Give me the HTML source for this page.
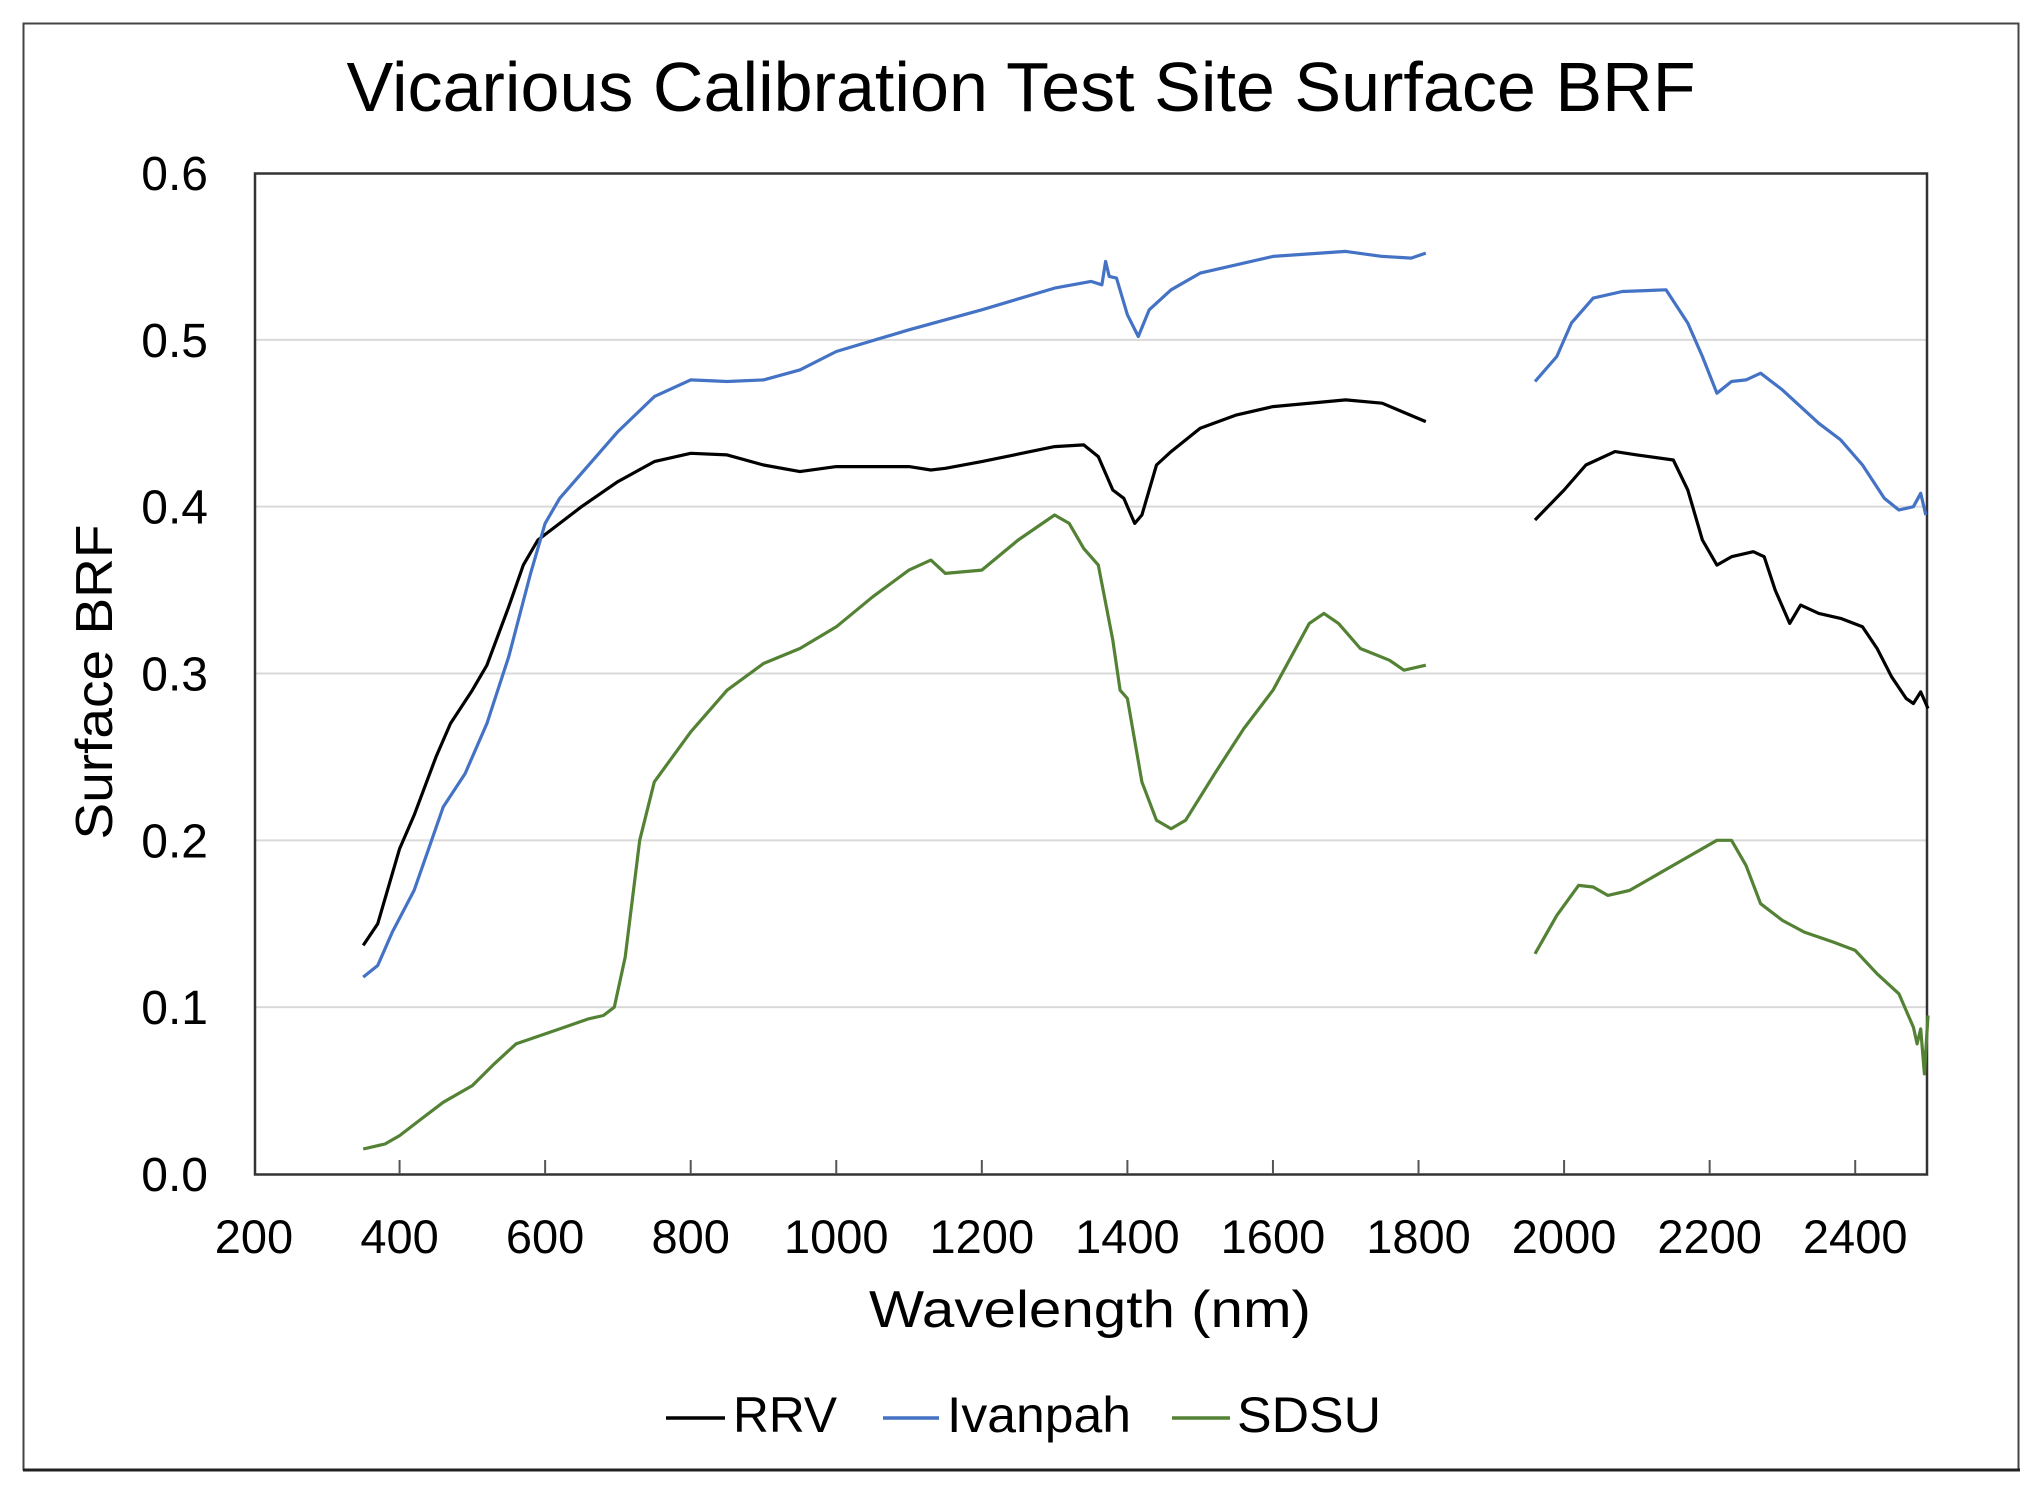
<!DOCTYPE html>
<html><head><meta charset="utf-8"><style>
html,body{margin:0;padding:0;background:#fff;}
svg{display:block;}
text{font-family:"Liberation Sans",Arial,sans-serif;fill:#000;}
</style></head><body>
<svg id="s" width="2040" height="1492" viewBox="0 0 2040 1492" xmlns="http://www.w3.org/2000/svg">
<rect x="0" y="0" width="2040" height="1492" fill="#fff"/>
<rect x="23.5" y="23.5" width="1995" height="1446" fill="none" stroke="#444" stroke-width="2"/>
<line x1="23" y1="1470" x2="2020" y2="1470" stroke="#222" stroke-width="3"/>
<text x="1021" y="111" font-size="70" text-anchor="middle" textLength="1349" lengthAdjust="spacingAndGlyphs">Vicarious Calibration Test Site Surface BRF</text>
<g id="grid" stroke="#d9d9d9" stroke-width="2"></g>
<rect x="255" y="173.5" width="1672" height="1001" fill="none" stroke="#333" stroke-width="2.5"/>
<g id="ticks" stroke="#555" stroke-width="2"></g>
<g id="ylab" font-size="48" text-anchor="end"></g>
<g id="xlab" font-size="47" text-anchor="middle"></g>
<text x="1090" y="1327" font-size="52" text-anchor="middle" textLength="442" lengthAdjust="spacingAndGlyphs">Wavelength (nm)</text>
<text transform="translate(112,682) rotate(-90)" font-size="52" text-anchor="middle" textLength="315" lengthAdjust="spacingAndGlyphs">Surface BRF</text>
<g id="series" fill="none" stroke-width="3.2" stroke-linejoin="round"></g>
<line x1="666" y1="1418" x2="725" y2="1418" stroke="#000" stroke-width="3.5"/>
<text x="733" y="1432" font-size="50" textLength="104" lengthAdjust="spacingAndGlyphs">RRV</text>
<line x1="883" y1="1418" x2="939" y2="1418" stroke="#4472C4" stroke-width="3.5"/>
<text x="947" y="1432" font-size="50" textLength="184" lengthAdjust="spacingAndGlyphs">Ivanpah</text>
<line x1="1172" y1="1418" x2="1230" y2="1418" stroke="#548235" stroke-width="3.5"/>
<text x="1237" y="1432" font-size="50" textLength="144" lengthAdjust="spacingAndGlyphs">SDSU</text>
</svg>
<script>
var NS="http://www.w3.org/2000/svg";
function X(w){return 254+(w-200)*1674/2300;}
function Y(v){return 1174-v*1001/0.6;}
function el(p,t,a,txt){var e=document.createElementNS(NS,t);for(var k in a)e.setAttribute(k,a[k]);if(txt)e.textContent=txt;document.getElementById(p).appendChild(e);}
for(var i=1;i<=5;i++){var y=Y(i/10);el("grid","line",{x1:256,x2:1926,y1:y,y2:y});}
for(var i=0;i<=6;i++){el("ylab","text",{x:208,y:Y(i/10)+17},(i/10).toFixed(1));}
for(var w=200;w<=2400;w+=200){var x=X(w);el("xlab","text",{x:x,y:1253},""+w);if(w>200)el("ticks","line",{x1:x,x2:x,y1:1174,y2:1160});}
var rrv=[[[350,.137],[370,.15],[390,.18],[400,.195],[420,.215],[450,.25],[470,.27],[500,.29],[520,.305],[550,.34],[570,.365],[590,.38],[620,.39],[650,.40],[700,.415],[750,.427],[800,.432],[850,.431],[900,.425],[950,.421],[1000,.424],[1100,.424],[1130,.422],[1150,.423],[1200,.427],[1300,.436],[1340,.437],[1360,.43],[1380,.41],[1395,.405],[1410,.39],[1420,.395],[1440,.425],[1460,.433],[1500,.447],[1550,.455],[1600,.46],[1700,.464],[1750,.462],[1810,.451]],
[[1960,.392],[2000,.41],[2030,.425],[2070,.433],[2100,.431],[2150,.428],[2170,.41],[2190,.38],[2210,.365],[2230,.37],[2260,.373],[2275,.37],[2290,.35],[2310,.33],[2325,.341],[2350,.336],[2380,.333],[2410,.328],[2430,.315],[2450,.298],[2470,.285],[2480,.282],[2490,.289],[2500,.279]]];
var iv=[[[350,.118],[370,.125],[390,.145],[420,.17],[440,.195],[460,.22],[490,.24],[520,.27],[550,.31],[580,.36],[600,.39],[620,.405],[650,.42],[700,.445],[750,.466],[800,.476],[850,.475],[900,.476],[950,.482],[1000,.493],[1100,.506],[1200,.518],[1300,.531],[1350,.535],[1365,.533],[1370,.547],[1375,.538],[1385,.537],[1400,.515],[1415,.502],[1430,.518],[1460,.53],[1500,.54],[1600,.55],[1700,.553],[1750,.55],[1790,.549],[1810,.552]],
[[1960,.475],[1990,.49],[2010,.51],[2040,.525],[2080,.529],[2140,.530],[2170,.51],[2190,.49],[2210,.468],[2230,.475],[2250,.476],[2270,.48],[2300,.47],[2350,.45],[2380,.44],[2410,.425],[2440,.405],[2460,.398],[2480,.4],[2490,.408],[2497,.395]]];
var sd=[[[350,.015],[380,.018],[400,.023],[430,.033],[460,.043],[500,.053],[530,.066],[560,.078],[580,.081],[620,.087],[660,.093],[680,.095],[695,.1],[710,.13],[730,.2],[750,.235],[800,.265],[850,.29],[900,.306],[950,.315],[1000,.328],[1050,.346],[1100,.362],[1130,.368],[1150,.36],[1200,.362],[1250,.38],[1300,.395],[1320,.39],[1340,.375],[1360,.365],[1380,.32],[1390,.29],[1400,.285],[1420,.235],[1440,.212],[1460,.207],[1480,.212],[1520,.24],[1560,.267],[1600,.29],[1650,.33],[1670,.336],[1690,.33],[1720,.315],[1760,.308],[1780,.302],[1810,.305]],
[[1960,.132],[1990,.155],[2020,.173],[2040,.172],[2060,.167],[2090,.17],[2130,.18],[2170,.19],[2210,.2],[2230,.2],[2250,.185],[2270,.162],[2300,.152],[2330,.145],[2370,.139],[2400,.134],[2430,.12],[2460,.108],[2480,.088],[2485,.078],[2490,.087],[2495,.06],[2500,.095]]];
function draw(d,c){d.forEach(function(seg){var s="";seg.forEach(function(p,i){s+=(i?"L":"M")+X(p[0]).toFixed(1)+","+Y(p[1]).toFixed(1);});el("series","path",{d:s,stroke:c});});}
draw(sd,"#548235");draw(rrv,"#000");draw(iv,"#4472C4");
</script>
</body></html>
